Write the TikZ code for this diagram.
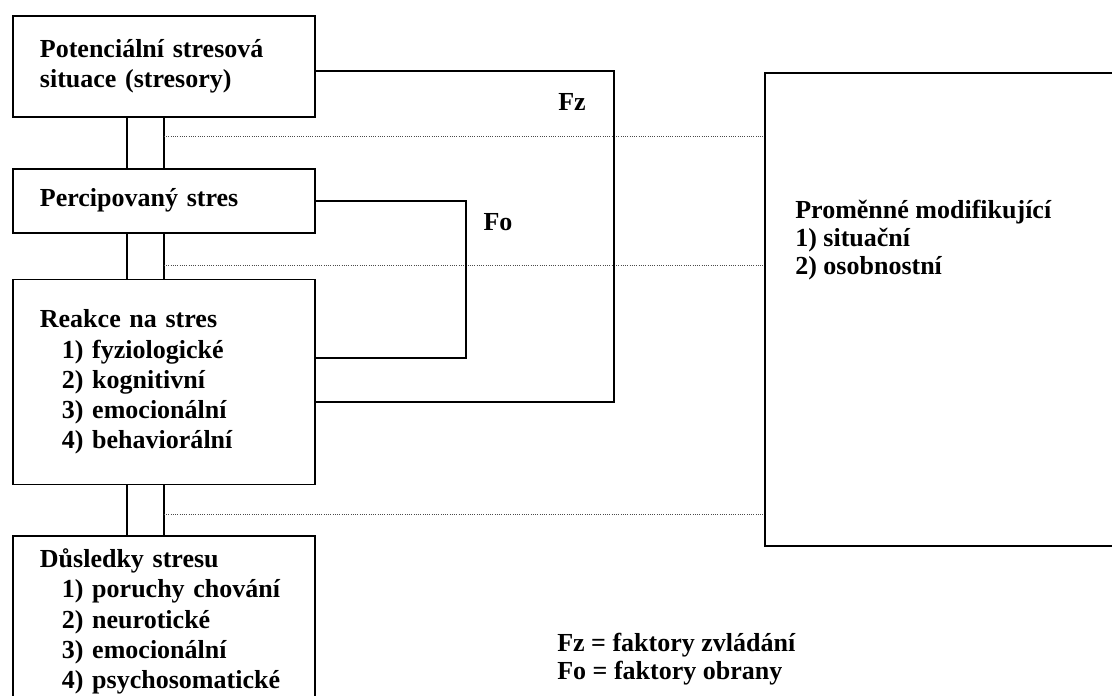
\documentclass[tikz,border=0pt]{standalone}
\usepackage{fontspec}
\setmainfont{Liberation Serif}
\usetikzlibrary{positioning}

\begin{document}
\begin{tikzpicture}[node distance=1.25cm,
    box/.style={draw, line width=1.3pt, minimum width=7.55cm, text width=6.2cm, inner sep=0pt, align=left, font=\bfseries\fontsize{18.5}{21.5}\selectfont},
    lbl/.style={inner sep=0pt, align=left, font=\bfseries\fontsize{18.5}{20}\selectfont},
    link/.style={line width=1.3pt},
    dotline/.style={densely dotted, line width=0.6pt, black!70}]
        \clip (0,0) rectangle (27.8,17.375);
        \node[box, minimum height=2.525cm, anchor=north west] (pot) at (0.3,17.0) {Potenciální stresová\\situace (stresory)};
        \node[box, minimum height=1.6cm, below=1.25cm of pot] (perc) {Percipovaný stres};
        \node[box, minimum height=5.125cm, below=1.125cm of perc] (reak) {Reakce na stres\\
            \hspace*{0.55cm}1) fyziologické\\
            \hspace*{0.55cm}2) kognitivní\\
            \hspace*{0.55cm}3) emocionální\\
            \hspace*{0.55cm}4) behaviorální};
        \node[box, minimum height=4.25cm, below=of reak] (dus) {Důsledky stresu\\
            \hspace*{0.55cm}1) poruchy chování\\
            \hspace*{0.55cm}2) neurotické\\
            \hspace*{0.55cm}3) emocionální\\
            \hspace*{0.55cm}4) psychosomatické};
        \node[draw, line width=1.3pt, minimum width=9.5cm, minimum height=11.825cm, anchor=north west] (prom) at (19.1,15.575) {};
        \node[lbl, anchor=north west] (promtxt) at ([xshift=0.775cm, yshift=-3.2cm]prom.north west) {Proměnné modifikující\\1) situační\\2) osobnostní};

        \foreach \a/\b in {pot/perc, perc/reak, reak/dus} {
            \draw[link] (\a.south) -- (\b.north);
            \draw[link] ([xshift=-0.925cm]\a.south) -- ([xshift=-0.925cm]\b.north);
        }

        \coordinate[below=0.475cm of pot.south] (d1);
        \coordinate[below=0.8cm of perc.south] (d2);
        \coordinate[below=0.725cm of reak.south] (d3);
        \foreach \d in {d1, d2, d3}
            \draw[dotline] (\d) -- (\d -| prom.west);

        \coordinate (fz) at (15.35,7.325);
        \coordinate (fo) at (11.65,8.425);
        \draw[link] ([yshift=-0.11cm]pot.east) -| (fz) -- (fz -| reak.east);
        \draw[link] (perc.east) -| (fo) -- (fo -| reak.east);

        \node[lbl] (fzlab) at (14.3,14.825) {Fz};
        \node[lbl] (folab) at (12.45,11.825) {Fo};
        \node[lbl, anchor=west] (legend) at (13.925,0.9) {Fz = faktory zvládání\\Fo = faktory obrany};
    \end{tikzpicture}
\end{document}
